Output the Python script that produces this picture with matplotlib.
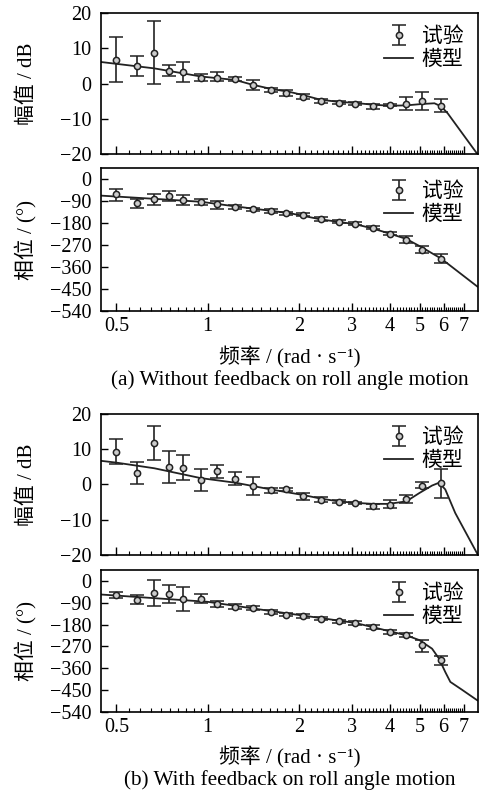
import numpy as np
import matplotlib
matplotlib.use("Agg")
import matplotlib.pyplot as plt
from matplotlib.ticker import FixedLocator, NullFormatter

plt.rcParams['font.family'] = ['Liberation Serif', 'DejaVu Serif', 'Noto Sans CJK SC']
plt.rcParams['axes.unicode_minus'] = True

# test frequencies (rad/s)
freq = [0.5, 0.585, 0.667, 0.747, 0.832, 0.954, 1.076, 1.235, 1.407, 1.616,
        1.81, 2.07, 2.36, 2.71, 3.07, 3.5, 3.99, 4.52, 5.1, 5.89]

# (a) without feedback: magnitude (dB) mean, upper, lower
mag_a = [6.6, 5.0, 8.7, 3.6, 3.2, 1.7, 1.7, 1.2, -0.5, -1.9,
         -2.7, -3.8, -4.9, -5.4, -5.7, -6.4, -6.1, -5.7, -5.0, -6.3]
mag_a_hi = [13.1, 7.9, 17.8, 5.3, 6.0, 2.8, 3.2, 1.9, 1.1, -1.4,
            -1.9, -3.1, -4.4, -4.9, -5.3, -5.7, -5.7, -3.8, -2.5, -4.4]
mag_a_lo = [0.3, 2.1, 0.0, 2.1, 0.5, 0.7, 0.7, 0.7, -1.9, -2.4,
            -3.4, -4.5, -5.5, -5.9, -6.1, -7.2, -6.4, -7.6, -7.6, -8.2]
# (a) phase (deg)
ph_a = [-61, -99, -81, -69, -86, -95, -103, -116, -124, -131,
        -141, -147, -165, -175, -182, -200, -223, -248, -289, -326]
ph_a_hi = [-40, -83, -61, -50, -65, -83, -88, -107, -117, -123,
           -134, -141, -157, -169, -176, -194, -217, -234, -275, -305]
ph_a_lo = [-88, -117, -105, -90, -106, -106, -124, -124, -131, -140,
           -149, -153, -172, -181, -188, -206, -229, -260, -303, -344]

# (b) with feedback
mag_b = [9.3, 3.3, 11.7, 5.0, 4.8, 1.4, 3.7, 1.6, -0.3, -1.6,
         -1.4, -3.3, -4.3, -4.9, -5.2, -6.2, -5.7, -4.0, -0.3, 0.5]
mag_b_hi = [12.9, 6.5, 16.7, 9.6, 8.4, 4.3, 5.6, 3.6, 2.1, -0.9,
            -1.0, -2.4, -3.6, -4.5, -5.0, -5.6, -4.3, -3.0, 0.7, 4.3]
mag_b_lo = [5.7, 0.2, 7.0, 0.5, 1.4, -1.9, 1.8, -0.2, -2.9, -2.5,
            -1.8, -4.3, -5.0, -5.2, -5.6, -7.0, -6.8, -5.2, -0.9, -3.8]
ph_b = [-59, -77, -48, -52, -73, -73, -96, -106, -111, -128,
        -139, -144, -155, -166, -173, -190, -210, -224, -265, -324]
ph_b_hi = [-45, -59, 3, -15, -27, -53, -82, -97, -104, -121,
           -132, -137, -148, -159, -166, -183, -203, -214, -244, -309]
ph_b_lo = [-70, -96, -103, -91, -125, -91, -108, -114, -118, -136,
           -146, -151, -162, -173, -180, -197, -217, -233, -293, -347]

# model curves
mod_a_f = [0.446, 0.667, 0.95, 1.235, 1.4, 1.616, 1.87, 2.07, 2.36, 2.71,
           3.07, 3.5, 4.0, 4.52, 5.1, 5.6, 5.9, 6.2, 7.76]
mod_a_mag = [6.1, 4.3, 2.0, 1.0, -0.3, -1.5, -2.4, -3.3, -4.6, -5.2,
             -5.5, -6.0, -6.3, -6.2, -5.8, -5.6, -6.5, -8.5, -20]
mod_a_pf = [0.446, 0.667, 0.95, 1.235, 1.616, 1.87, 2.36, 3.07, 3.5, 4.0,
            4.52, 5.1, 5.9, 7.76]
mod_a_ph = [-68, -81, -93, -112, -130, -140, -165, -185, -202, -224,
            -245, -280, -326, -440]
mod_b_f = [0.446, 0.5, 0.667, 0.95, 1.235, 1.616, 2.07, 2.36, 2.71, 3.07,
           3.5, 3.95, 4.52, 5.0, 5.5, 5.8, 6.08, 6.56, 7.76]
mod_b_mag = [6.7, 6.2, 4.6, 1.8, 0.5, -1.4, -3.0, -4.0, -4.8, -5.2,
             -5.5, -5.5, -4.8, -2.4, -0.3, 0.5, -1.4, -8.1, -19.7]
mod_b_pf = [0.446, 1.0, 1.616, 3.07, 3.95, 4.52, 5.0, 5.5, 5.8, 6.08,
            6.32, 6.9, 7.76]
mod_b_ph = [-56, -86, -124, -173, -206, -224, -244, -279, -320, -375,
            -416, -448, -492]

major_x = [0.5, 1, 2, 3, 4, 5, 6, 7]
major_lbl = ['0.5', '1', '2', '3', '4', '5', '6', '7']
minor_x = list(np.arange(0.55, 0.99, 0.05)) + [v for v in np.arange(1.1, 7.0, 0.1)
                                              if abs(v - round(v)) > 0.01]

fig = plt.figure(figsize=(4.79, 7.96), dpi=100)
L, W = 0.211, 0.787
boxes = [(0.8065, 0.1771), (0.6093, 0.1796), (0.3028, 0.1771), (0.1055, 0.1784)]
axes = [fig.add_axes([L, b, W, h]) for b, h in boxes]

ink = '#222222'
panels = [
    (axes[0], mag_a, mag_a_hi, mag_a_lo, mod_a_f, mod_a_mag, 'mag'),
    (axes[1], ph_a, ph_a_hi, ph_a_lo, mod_a_pf, mod_a_ph, 'ph'),
    (axes[2], mag_b, mag_b_hi, mag_b_lo, mod_b_f, mod_b_mag, 'mag'),
    (axes[3], ph_b, ph_b_hi, ph_b_lo, mod_b_pf, mod_b_ph, 'ph'),
]
for ax, y, hi, lo, mf, my, kind in panels:
    y = np.array(y)
    err = [y - np.array(lo), np.array(hi) - y]
    eb = ax.errorbar(freq, y, yerr=err, fmt='o', color=ink, ms=4.5, mfc='#cccccc',
                     mec=ink, mew=1.1, elinewidth=1.2, capsize=5, capthick=1.2)
    ln, = ax.plot(mf, my, color=ink, lw=1.3)
    ax.set_xscale('log')
    ax.set_xlim(0.445, 7.8)
    ax.xaxis.set_major_locator(FixedLocator(major_x))
    ax.xaxis.set_minor_locator(FixedLocator(minor_x))
    ax.xaxis.set_minor_formatter(NullFormatter())
    ax.set_xticklabels(major_lbl)
    ax.tick_params(axis='x', which='major', direction='in', length=6, width=1,
                   labelsize=14.5, pad=4, top=False)
    ax.tick_params(axis='x', which='minor', direction='in', length=3, width=0.8, top=False)
    ax.tick_params(axis='y', direction='in', length=5, width=1, labelsize=14.5,
                   pad=7, right=False)
    for s in ax.spines.values():
        s.set_linewidth(1.2)
    if kind == 'mag':
        ax.set_ylim(-20, 20)
        ax.set_yticks([-20, -10, 0, 10, 20])
        ax.set_ylabel('幅值 / dB', fontsize=15)
        ax.tick_params(axis='x', labelbottom=False)
    else:
        ax.set_ylim(-540, 45)
        ax.set_yticks([0, -90, -180, -270, -360, -450, -540])
        ax.set_ylabel('相位 / (°)', fontsize=15)
    ax.yaxis.set_label_coords(-0.17, 0.5)
    ax.legend([eb, ln], ['试验', '模型'], loc='upper right', frameon=False,
              fontsize=15, handlelength=1.4, handletextpad=0.4, labelspacing=0.15,
              borderaxespad=0.3)

fig.text(0.605, 0.5515, '频率 / (rad · s⁻¹)', ha='center', va='center', fontsize=15)
fig.text(0.605, 0.5226, '(a) Without feedback on roll angle motion', ha='center',
         va='center', fontsize=15.3)
fig.text(0.605, 0.049, '频率 / (rad · s⁻¹)', ha='center', va='center', fontsize=15)
fig.text(0.605, 0.0201, '(b) With feedback on roll angle motion', ha='center',
         va='center', fontsize=15.3)

fig.savefig('out.png', dpi=100)
